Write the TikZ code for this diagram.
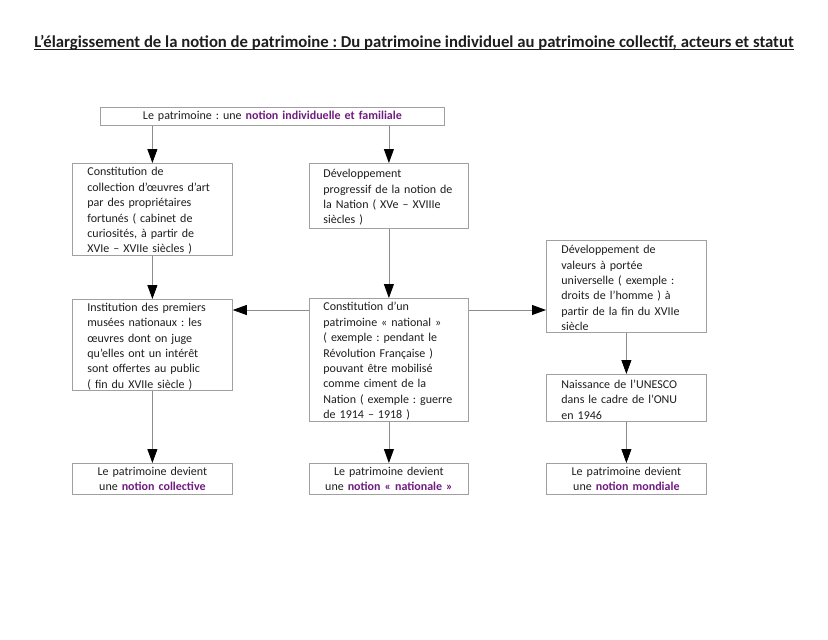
\documentclass[tikz,border=0pt]{standalone}
\usepackage{fontspec}
\setmainfont{Carlito}
\frenchspacing
\usetikzlibrary{arrows.meta,calc}
\definecolor{txt}{RGB}{30,30,30}
\definecolor{pur}{RGB}{112,28,128}
\definecolor{boxline}{RGB}{160,160,160}
\definecolor{conline}{RGB}{140,140,140}
\newcommand{\hl}[1]{\textcolor{pur}{\textbf{#1}}}
\newcommand{\tup}{\rule{0pt}{11.5pt}}
\begin{document}
\begin{tikzpicture}[x=1pt,y=-1pt,
  every node/.style={text=txt,font=\fontsize{12}{15.4}\selectfont},
  lbox/.style={draw=boxline,line width=0.8pt,anchor=north west,align=left,
    inner xsep=0pt,inner ysep=0pt},
  cbox/.style={draw=boxline,line width=0.8pt,anchor=north west,align=center,
    inner xsep=0pt,inner ysep=0pt},
  conn/.style={draw=conline,line width=0.8pt,-{Triangle[length=14pt,width=10pt,color=black]}}
]
\useasboundingbox (0,0) rectangle (828,640);
\fill[white] (0,0) rectangle (828,640);

% title
\node[inner sep=0pt,anchor=base,font=\fontsize{16.7}{18}\selectfont\bfseries] (title) at (414,47)
  {L’élargissement de la notion de patrimoine : Du patrimoine individuel au patrimoine collectif, acteurs et statut};
\draw[line width=0.9pt,txt] ([yshift=-2pt]title.base west) -- ([yshift=-2pt]title.base east);

% top box
\node[cbox,minimum width=344pt,minimum height=18pt,text width=344pt] (top) at (100,107)
  {Le patrimoine : une \hl{notion individuelle et familiale}};

% left column
\node[lbox,minimum height=92pt,text width=130pt,inner xsep=15pt] (a1) at (72,163)
  {\tup Constitution de\\ collection d’œuvres d’art\\ par des propriétaires\\ fortunés ( cabinet de\\ curiosités, à partir de\\ XVIe – XVIIe siècles )};
\node[lbox,minimum height=91pt,text width=130pt,inner xsep=15pt] (a2) at (72,299)
  {\tup Institution des premiers\\ musées nationaux : les\\ œuvres dont on juge\\ qu’elles ont un intérêt\\ sont offertes au public\\ ( fin du XVIIe siècle )};
\node[cbox,minimum height=31pt,text width=160pt] (a3) at (72,463)
  {Le patrimoine devient\\ une \hl{notion collective}};

% middle column
\node[lbox,minimum height=65pt,text width=131pt,inner xsep=14pt] (b1) at (309,163)
  {\tup Développement\\ progressif de la notion de\\ la Nation ( XVe – XVIIIe\\ siècles )};
\node[lbox,minimum height=123pt,text width=131pt,inner xsep=14pt] (b2) at (309,298)
  {\tup Constitution d’un\\ patrimoine «~national~»\\ ( exemple : pendant le\\ Révolution Française )\\ pouvant être mobilisé\\ comme ciment de la\\ Nation ( exemple : guerre\\ de 1914 – 1918 )};
\node[cbox,minimum height=31pt,text width=159pt] (b3) at (309,463)
  {Le patrimoine devient\\ une \hl{notion «~nationale~»}};

% right column
\node[lbox,minimum height=92pt,text width=130pt,inner xsep=15pt] (c1) at (546,240)
  {\tup Développement de\\ valeurs à portée\\ universelle ( exemple :\\ droits de l’homme ) à\\ partir de la fin du XVIIe\\ siècle};
\node[lbox,minimum height=47pt,text width=130pt,inner xsep=15pt] (c2) at (546,374)
  {\tup Naissance de l’UNESCO\\ dans le cadre de l’ONU\\ en 1946};
\node[cbox,minimum height=31pt,text width=160pt] (c3) at (546,463)
  {Le patrimoine devient\\ une \hl{notion mondiale}};

% connectors
\draw[conn] (a1.north |- top.south) -- (a1.north);
\draw[conn] (b1.north |- top.south) -- (b1.north);
\draw[conn] (a1.south) -- (a2.north);
\draw[conn] (b1.south) -- (b2.north);
\draw[conn] (c1.south) -- (c2.north);
\draw[conn] (a2.south) -- (a3.north);
\draw[conn] (b2.south) -- (b3.north);
\draw[conn] (c2.south) -- (c3.north);
\coordinate (bl) at ([yshift=-12pt]b2.north west);
\coordinate (br) at ([yshift=-12pt]b2.north east);
\draw[conn] (bl) -- (bl -| a2.east);
\draw[conn] (br) -- (br -| c1.west);
\end{tikzpicture}
\end{document}
